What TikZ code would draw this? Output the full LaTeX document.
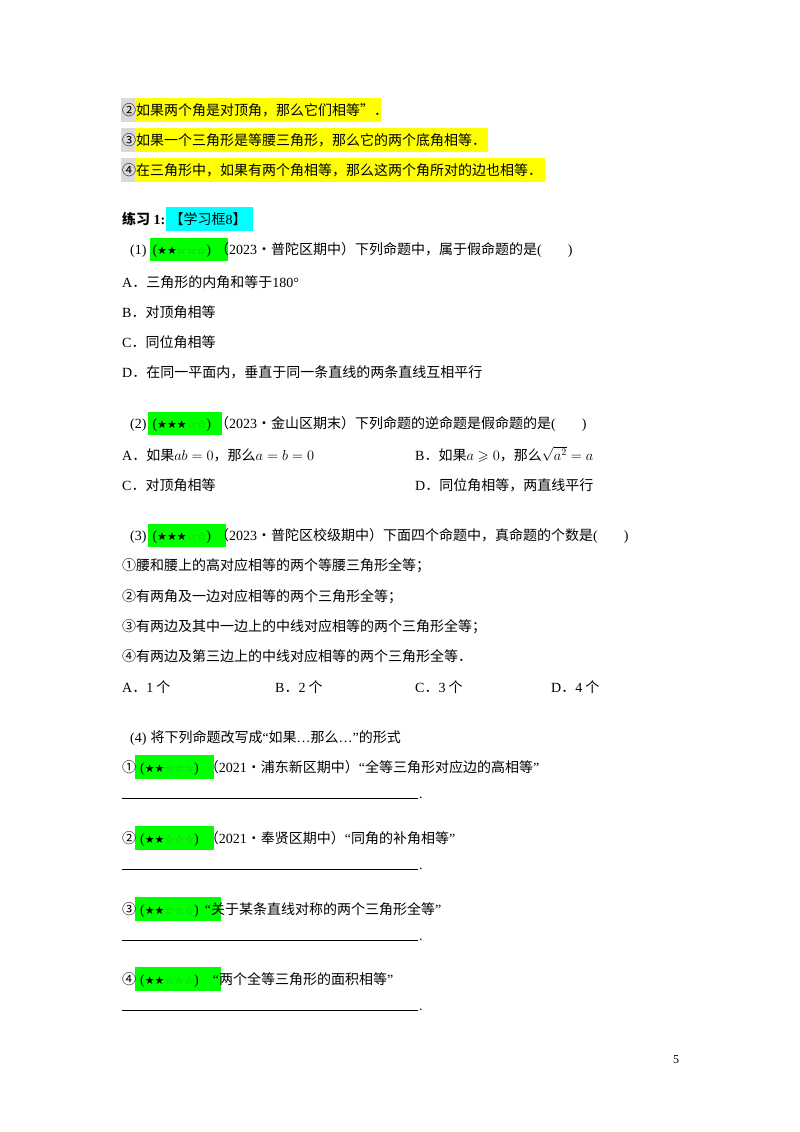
\documentclass[tikz,border=0pt]{standalone}
\usepackage{amssymb}
\usepackage{fontspec}
\setmainfont{Liberation Serif}
\newfontfamily\cjk{Noto Sans CJK SC}
\newfontfamily\sym{DejaVu Sans}
\newcommand{\zh}[1]{{\cjk #1}}
\newcommand{\stars}[1]{{\sym\fontsize{11}{11}\selectfont #1}}
\definecolor{hy}{RGB}{255,255,0}
\definecolor{hc}{RGB}{0,255,255}
\definecolor{hg}{RGB}{0,255,0}
\definecolor{hgray}{RGB}{217,217,217}
\definecolor{sg}{RGB}{60,160,60}
\begin{document}
\begin{tikzpicture}[x=1pt,y=-1pt,
  t/.style={anchor=base west,inner sep=0pt,font=\fontsize{14}{14}\selectfont},
  hl/.style={draw=none}]
\useasboundingbox[fill=white] (0,0) rectangle (800,1132);
% highlights
\fill[hgray] (121,98) rectangle (135,122);
\fill[hy] (135,98) rectangle (381,122);
\fill[hgray] (121,128) rectangle (135,152);
\fill[hy] (135,128) rectangle (488,152);
\fill[hgray] (121,158) rectangle (135,182);
\fill[hy] (135,158) rectangle (545,182);
\fill[hc] (166,207) rectangle (253,231);
\fill[hg] (150,238) rectangle (228,261);
\fill[hg] (148,412) rectangle (222,435);
\fill[hg] (148,524) rectangle (226,547);
\fill[hg] (135,755) rectangle (214,779);
\fill[hg] (135,826) rectangle (214,850);
\fill[hg] (135,897) rectangle (221,921);
\fill[hg] (135,967) rectangle (221,991);
\newcommand{\st}[2]{\stars{#1\textcolor{sg}{#2}}}
% text
\node[t] (l1) at (122,115) {\zh{②如果两个角是对顶角，那么它们相等”．}};
\node[t] (l2) at (122,145) {\zh{③如果一个三角形是等腰三角形，那么它的两个底角相等．}};
\node[t] (l3) at (122,175) {\zh{④在三角形中，如果有两个角相等，那么这两个角所对的边也相等．}};
\node[t] (p1) at (122,224) {\zh{\bfseries 练习}\textbf{ 1:}\zh{ 【学习框}8\zh{】}};
\node[t] (q1) at (130,254) {(1)\hspace{6pt}(\st{★★}{☆☆☆})\hspace{4pt}\zh{（}2023\zh{•普陀区期中）下列命题中，属于假命题的是}(\hspace{26pt})};
\node[t] (q1a) at (122,287) {A\zh{．三角形的内角和等于}180°};
\node[t] (q1b) at (122,317) {B\zh{．对顶角相等}};
\node[t] (q1c) at (122,347) {C\zh{．同位角相等}};
\node[t] (q1d) at (122,377) {D\zh{．在同一平面内，垂直于同一条直线的两条直线互相平行}};
\node[t] (q2) at (130,428) {(2)\hspace{6pt}(\st{★★★}{☆☆})\hspace{4pt}\zh{（}2023\zh{•金山区期末）下列命题的逆命题是假命题的是}(\hspace{26pt})};
\node[t] (q2a) at (122,460) {A\zh{．如果}$ab=0$\zh{，那么}$a=b=0$};
\node[t] (q2b) at (415,460) {B\zh{．如果}$a\geqslant 0$\zh{，那么}$\sqrt{a^2}=a$};
\node[t] (q2c) at (122,490) {C\zh{．对顶角相等}};
\node[t] (q2d) at (415,490) {D\zh{．同位角相等，两直线平行}};
\node[t] (q3) at (130,540) {(3)\hspace{6pt}(\st{★★★}{☆☆})\hspace{4pt}\zh{（}2023\zh{•普陀区校级期中）下面四个命题中，真命题的个数是}(\hspace{26pt})};
\node[t] (q3i) at (122,570) {\zh{①腰和腰上的高对应相等的两个等腰三角形全等；}};
\node[t] (q3ii) at (122,601) {\zh{②有两角及一边对应相等的两个三角形全等；}};
\node[t] (q3iii) at (122,631) {\zh{③有两边及其中一边上的中线对应相等的两个三角形全等；}};
\node[t] (q3iv) at (122,661) {\zh{④有两边及第三边上的中线对应相等的两个三角形全等．}};
\node[t] (q3a) at (122,692) {A\zh{．}1\zh{ 个}};
\node[t] (q3b) at (275,692) {B\zh{．}2\zh{ 个}};
\node[t] (q3c) at (415,692) {C\zh{．}3\zh{ 个}};
\node[t] (q3d) at (551,692) {D\zh{．}4\zh{ 个}};
\node[t] (q4) at (130,742) {(4)\hspace{4pt}\zh{将下列命题改写成}“\zh{如果}…\zh{那么}…”\zh{的形式}};
\node[t] (s1) at (122,772) {\zh{①}\hspace{4pt}(\st{★★}{☆☆☆})\hspace{6pt}\zh{（}2021\zh{•浦东新区期中）}“\zh{全等三角形对应边的高相等}”};
\node[t] (s2) at (122,843) {\zh{②}\hspace{4pt}(\st{★★}{☆☆☆})\hspace{6pt}\zh{（}2021\zh{•奉贤区期中）}“\zh{同角的补角相等}”};
\node[t] (s3) at (122,914) {\zh{③}\hspace{4pt}(\st{★★}{☆☆☆})\hspace{6pt}“\zh{关于某条直线对称的两个三角形全等}”};
\node[t] (s4) at (122,984) {\zh{④}\hspace{4pt}(\st{★★}{☆☆☆})\hspace{14pt}“\zh{两个全等三角形的面积相等}”};
\foreach \y/\n in {798/a,869/b,940/c,1010/d}{
  \coordinate (b\n1) at (122,\y); \coordinate (b\n2) at (418,\y);
  \draw[line width=0.6pt] (b\n1) -- (b\n2);
  \node[t] at (419,\y) {.};
}
\node[t,font=\fontsize{12}{12}\selectfont] (pg) at (673,1063) {5};
\end{tikzpicture}
\end{document}
